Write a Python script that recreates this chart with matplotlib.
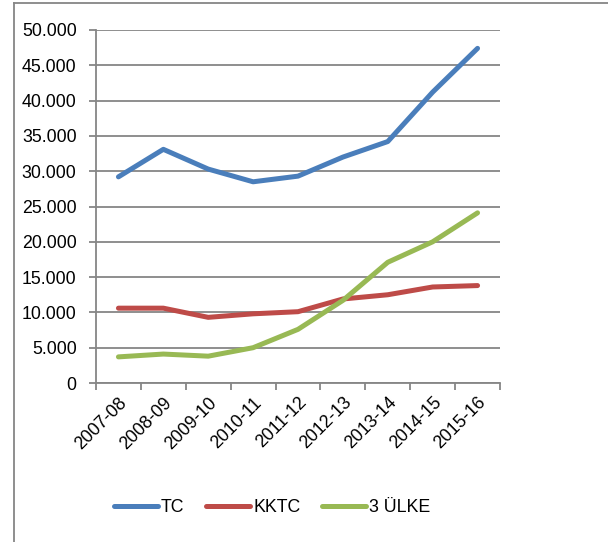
import matplotlib
matplotlib.use("Agg")
import matplotlib.pyplot as plt
from matplotlib.lines import Line2D
from matplotlib.ticker import FuncFormatter, FixedLocator

categories = ["2007-08", "2008-09", "2009-10", "2010-11", "2011-12",
              "2012-13", "2013-14", "2014-15", "2015-16"]
tc = [29200, 33100, 30300, 28500, 29300, 32000, 34200, 41200, 47400]
kktc = [10600, 10600, 9300, 9800, 10100, 11900, 12500, 13600, 13800]
uc_ulke = [3700, 4100, 3800, 5000, 7600, 11700, 17100, 20000, 24100]
series_names = ["TC", "KKTC", "3 ÜLKE"]
colors = ["#4a7ebb", "#be4b48", "#98b954"]

plt.rcParams['font.family'] = ['Liberation Sans', 'DejaVu Sans']
FS = 12.8

W, H = 608, 542
fig = plt.figure(figsize=(W / 100, H / 100), dpi=100)
ax = fig.add_axes([96 / W, (H - 383) / H, 404 / W, 353 / H])

x = list(range(len(categories)))
for vals, c, n in zip([tc, kktc, uc_ulke], colors, series_names):
    ax.plot(x, vals, color=c, lw=3.6, solid_capstyle='round',
            solid_joinstyle='round', label=n, zorder=3)

ax.set_xlim(-0.5, len(categories) - 0.5)
ax.set_ylim(0, 50000)
ax.set_yticks(range(0, 50001, 5000))
ax.yaxis.set_major_formatter(FuncFormatter(
    lambda v, p: "0" if v == 0 else f"{int(v):,}".replace(",", ".")))
ax.grid(axis='y', color='#868686', lw=1.3, zorder=0)
ax.set_axisbelow(True)

ax.set_xticks(x)
ax.set_xticklabels(categories, rotation=45, ha='right', va='top',
                   rotation_mode='anchor', fontsize=FS)
ax.tick_params(axis='x', which='major', length=0, pad=8)
ax.xaxis.set_minor_locator(FixedLocator([i - 0.5 for i in range(len(categories) + 1)]))
ax.tick_params(axis='x', which='minor', length=5, width=1.3, color='#868686')
ax.tick_params(axis='y', length=5, width=1.3, color='#868686', labelsize=FS, pad=9)

for s in ['top', 'right']:
    ax.spines[s].set_visible(False)
for s in ['left', 'bottom']:
    ax.spines[s].set_color('#868686')
    ax.spines[s].set_linewidth(1.3)

handles = [Line2D([0], [0], color=c, lw=3.6, solid_capstyle='round') for c in colors]
fig.legend(handles, series_names, loc='center', bbox_to_anchor=(272 / W, 1 - 508 / H),
           ncol=3, frameon=False, fontsize=FS, handlelength=2.5, handletextpad=0.15,
           columnspacing=1.2)

# outer chart border
fig.add_artist(Line2D([14 / W, 14 / W], [0, 1 - 3 / H], color='#868686', lw=1.3,
                      transform=fig.transFigure))
fig.add_artist(Line2D([14 / W, 1], [1 - 3 / H, 1 - 3 / H], color='#868686', lw=1.3,
                      transform=fig.transFigure))

fig.savefig("out.png", dpi=100)
